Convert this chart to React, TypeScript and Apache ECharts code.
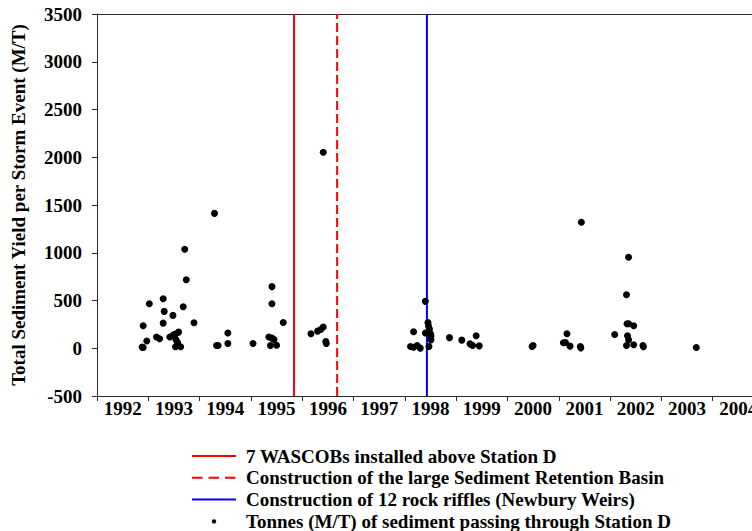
import React, { useEffect, useRef } from "react";
import * as echarts from "echarts";

const yearLabels = ["1992", "1993", "1994", "1995", "1996", "1997", "1998", "1999", "2000", "2001", "2002", "2003", "2004"];

const eventYears = [
  1992.88, 1992.9, 1992.9, 1992.97, 1993.02, 1993.16, 1993.22, 1993.29, 1993.31, 1993.29,
  1993.42, 1993.48, 1993.49, 1993.53, 1993.59, 1993.54, 1993.57, 1993.53, 1993.58, 1993.63,
  1993.68, 1993.71, 1993.74, 1993.89, 1994.29, 1994.33, 1994.36, 1994.55, 1994.55, 1995.04,
  1995.41, 1995.41, 1995.63, 1995.35, 1995.41, 1995.45, 1995.38, 1995.5, 1996.17, 1996.3,
  1996.36, 1996.41, 1996.41, 1996.46, 1996.47, 1998.11, 1998.17, 1998.17, 1998.24, 1998.3,
  1998.4, 1998.4, 1998.45, 1998.46, 1998.48, 1998.5, 1998.51, 1998.5, 1998.51, 1998.47,
  1998.87, 1999.11, 1999.27, 1999.32, 1999.39, 1999.45, 2000.48, 2000.5, 2001.09, 2001.13,
  2001.16, 2001.22, 2001.42, 2001.43, 2001.44, 2002.09, 2002.32, 2002.33, 2002.32, 2002.36,
  2002.36, 2002.34, 2002.36, 2002.46, 2002.46, 2002.64, 2002.65, 2003.68,
];

const sedimentYields = [
  12, 8, 235, 75, 466, 117, 99, 519, 386, 263,
  117, 344, 141, 148, 169, 88, 60, 15, 28, 15,
  435, 1037, 718, 267, 1412, 28, 28, 159, 49, 49,
  645, 466, 270, 117, 106, 91, 28, 32, 151, 179,
  197, 222, 2052, 71, 50, 18, 11, 172, 29, 1,
  491, 159, 270, 235, 200, 151, 130, 96, 88, 18,
  111, 85, 46, 29, 130, 25, 18, 28, 57, 60,
  151, 22, 18, 4, 1320, 144, 28, 256, 561, 953,
  256, 130, 88, 235, 36, 28, 15, 7,
];

const wascobYear = 1995.84;
const basinYear = 1996.68;
const weirYear = 1998.43;

const yMin = -500;
const yMax = 3500;
const yStep = 500;
const xMin = 1992;
const xMax = 2005;

const seriesNames = [
  "7 WASCOBs installed above Station D",
  "Construction of the large Sediment Retention Basin",
  "Construction of 12 rock riffles (Newbury Weirs)",
  "Tonnes (M/T) of sediment passing through Station D",
];

export default function App() {
  const ref = useRef<HTMLDivElement>(null);

  useEffect(() => {
    const chart = echarts.init(ref.current as HTMLDivElement, null, { renderer: "svg" });
    const font = "'Liberation Serif', 'Times New Roman', serif";
    const axisColor = "#2a2a2a";
    const textBase = { fontFamily: font, fontWeight: "bold" as const, fontSize: 19, color: "#000" };
    const points = eventYears.map((x, i) => [x, sedimentYields[i]]);
    const vline = (x: number) => [[x, yMin], [x, yMax]];

    chart.setOption({
      animation: false,
      grid: { left: 97, top: 14, width: 667, bottom: 135, outerBoundsMode: "none", containLabel: false },
      xAxis: [
        {
          type: "category",
          data: yearLabels,
          boundaryGap: true,
          position: "bottom",
          axisLine: { show: true, onZero: false, lineStyle: { color: axisColor, width: 1 } },
          axisTick: { show: true, interval: 0, length: 5, lineStyle: { color: axisColor } },
          axisLabel: { ...textBase, margin: 3, interval: 0 },
          splitLine: { show: false },
        },
        {
          type: "value",
          min: xMin,
          max: xMax,
          position: "top",
          axisLine: { show: true, onZero: false, lineStyle: { color: axisColor, width: 1 } },
          axisTick: { show: false },
          axisLabel: { show: false },
          splitLine: { show: false },
        },
      ],
      yAxis: {
        type: "value",
        min: yMin,
        max: yMax,
        interval: yStep,
        position: "left",
        axisLine: { show: true, onZero: false, lineStyle: { color: axisColor, width: 1 } },
        axisTick: { show: true, length: 5, lineStyle: { color: axisColor } },
        axisLabel: { ...textBase, margin: 15, formatter: (v: number) => String(v) },
        splitLine: { show: false },
        name: "Total Sediment Yield per Storm Event (M/T)",
        nameLocation: "middle",
        nameGap: 69,
        nameTextStyle: { ...textBase },
      },
      legend: {
        orient: "vertical",
        left: 191,
        top: 446,
        height: 120,
        padding: 0,
        itemWidth: 44,
        itemHeight: 14,
        itemGap: 1.8,
        selectedMode: false,
        textStyle: { ...textBase, lineHeight: 20, padding: [0, 0, 0, 5] },
        data: [
          { name: seriesNames[0], itemStyle: { opacity: 0 } },
          { name: seriesNames[1], itemStyle: { opacity: 0 } , lineStyle: { type: [10.5, 6] } },
          { name: seriesNames[2], itemStyle: { opacity: 0 } },
          {
            name: seriesNames[3],
            icon: "path://M0,0M44,14M19.8,7a2.2,2.2 0 1,0 4.4,0a2.2,2.2 0 1,0 -4.4,0z",
          },
        ],
      },
      series: [
        {
          name: seriesNames[0],
          type: "line",
          xAxisIndex: 1,
          data: vline(wascobYear),
          symbol: "none",
          color: "#ff0000",
          lineStyle: { color: "#ff0000", width: 2 },
        },
        {
          name: seriesNames[1],
          type: "line",
          xAxisIndex: 1,
          data: vline(basinYear),
          symbol: "none",
          color: "#ff0000",
          lineStyle: { color: "#ff0000", width: 2, type: [9, 4] },
        },
        {
          name: seriesNames[2],
          type: "line",
          xAxisIndex: 1,
          data: vline(weirYear),
          symbol: "none",
          color: "#0000ff",
          lineStyle: { color: "#0000ff", width: 2 },
        },
        {
          name: seriesNames[3],
          type: "scatter",
          xAxisIndex: 1,
          data: points,
          symbol: "circle",
          symbolSize: 7,
          color: "#000",
          itemStyle: { color: "#000", opacity: 1 },
          z: 5,
        },
      ],
    });

    return () => chart.dispose();
  }, []);

  return (
    <div
      ref={ref}
      style={{ position: "fixed", left: 0, top: 0, width: 752, height: 531, background: "#fff" }}
    />
  );
}
